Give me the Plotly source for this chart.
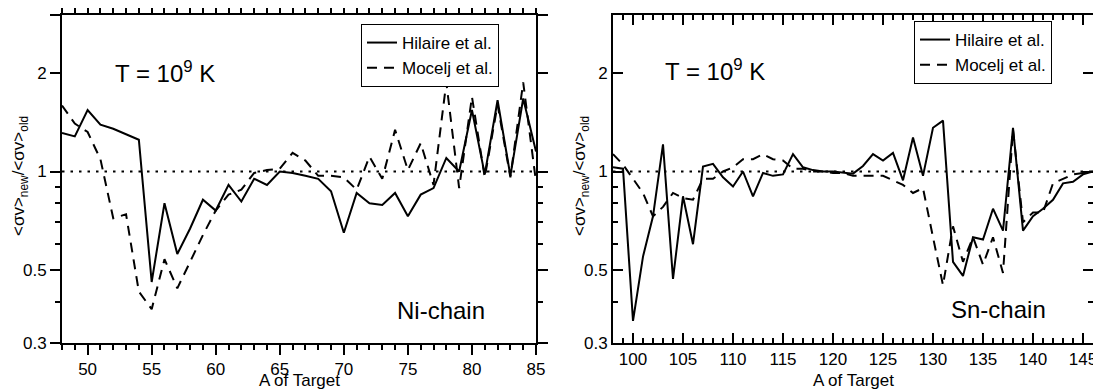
import math
import plotly.graph_objects as go

# ---- data ----
A_ni = list(range(48, 86))
hilaire_ni = [1.31, 1.28, 1.54, 1.39, 1.35, 1.30, 1.25, 0.46, 0.80, 0.56,
              0.67, 0.82, 0.76, 0.91, 0.81, 0.95, 0.91, 1.00, 0.99, 0.97,
              0.95, 0.87, 0.65, 0.86, 0.80, 0.79, 0.86, 0.73, 0.85, 0.89,
              1.10, 1.00, 1.54, 0.98, 1.65, 0.97, 1.67, 1.15]
mocelj_ni = [1.59, 1.40, 1.32, 1.09, 0.72, 0.74, 0.43, 0.38, 0.54, 0.44,
             0.53, 0.64, 0.76, 0.85, 0.88, 0.99, 1.01, 1.02, 1.14, 1.08,
             0.97, 0.97, 0.96, 0.88, 1.11, 0.95, 1.34, 1.01, 1.22, 0.91,
             1.87, 0.89, 1.69, 0.96, 1.60, 0.96, 1.87, 0.93]

A_sn = list(range(98, 147))
hilaire_sn = [1.03, 1.02, 0.35, 0.55, 0.73, 1.21, 0.47, 0.84, 0.60, 1.035,
              1.055, 0.96, 0.90, 1.00, 0.84, 0.99, 0.97, 0.98, 1.13, 1.03,
              1.01, 1.00, 1.00, 0.99, 0.985, 1.04, 1.13, 1.08, 1.14, 0.94,
              1.27, 0.97, 1.36, 1.43, 0.53, 0.48, 0.63, 0.62, 0.77, 0.66,
              1.36, 0.66, 0.73, 0.77, 0.82, 0.92, 0.93, 0.98, 1.00]
mocelj_sn = [1.13, 1.05, 0.95, 0.86, 0.73, 0.78, 0.86, 0.83, 0.82, 0.95,
             0.95, 1.00, 1.03, 1.09, 1.09, 1.13, 1.09, 1.08, 1.02, 1.02,
             1.00, 1.00, 0.99, 0.99, 0.97, 0.97, 0.97, 0.97, 0.94, 0.91,
             0.86, 0.89, 0.63, 0.45, 0.68, 0.53, 0.63, 0.52, 0.63, 0.49,
             1.34, 0.70, 0.75, 0.75, 0.92, 0.95, 0.98, 0.99, 1.00]

y_ticks = [0.3, 0.5, 1, 2, 3]
y_minor = [0.4, 0.6, 0.7, 0.8, 0.9]
y_lim = [0.3, 3]
ref_level = [1, 1]

FONT = "Arial, Liberation Sans, Helvetica, sans-serif"
DASH = "10px,7px"
DOT = "2.5px,6px"
YRANGE = [math.log10(y_lim[0]) - 0.0005, math.log10(y_lim[1]) + 0.0005]
W, H = 1093, 382   # page body adds an 8px margin

fig = go.Figure()

panels = [
    ("x", "y", A_ni, hilaire_ni, mocelj_ni, "legend"),
    ("x2", "y2", A_sn, hilaire_sn, mocelj_sn, "legend2"),
]
for xa, ya, A, hil, moc, leg in panels:
    fig.add_trace(go.Scatter(x=[A[0], A[-1]], y=ref_level, mode="lines",
                             line=dict(color="black", width=2, dash=DOT),
                             showlegend=False, xaxis=xa, yaxis=ya, hoverinfo="skip"))
    fig.add_trace(go.Scatter(x=A, y=hil, mode="lines", name="Hilaire et al.",
                             line=dict(color="black", width=2), xaxis=xa, yaxis=ya,
                             legend=leg))
    fig.add_trace(go.Scatter(x=A, y=moc, mode="lines", name="Mocelj et al.",
                             line=dict(color="black", width=2, dash=DASH), xaxis=xa,
                             yaxis=ya, legend=leg))


def xaxis(domain, rng, anchor, tdir):
    return dict(domain=domain, range=rng, anchor=anchor, showline=True, linecolor="black",
                linewidth=2, mirror="ticks", ticks=tdir, ticklen=10, tickwidth=2,
                tickcolor="black", showgrid=False, zeroline=False, dtick=5, tick0=0,
                automargin=False,
                minor=dict(ticks=tdir, ticklen=5, tickwidth=1.5, tickcolor="black",
                           dtick=1, tick0=0, showgrid=False))


def yaxis(domain, anchor, tdir):
    return dict(domain=domain, type="log", range=YRANGE, anchor=anchor, showline=True,
                linecolor="black", linewidth=2, mirror="ticks", ticks=tdir, ticklen=10,
                tickwidth=2, tickcolor="black", tickvals=y_ticks, showgrid=False,
                zeroline=False, automargin=False,
                minor=dict(ticks=tdir, ticklen=5, tickwidth=1.5, tickcolor="black",
                           tickvals=y_minor, showgrid=False))


ydom = [1 - 335 / H, 1 - 7 / H]
legend_style = dict(xanchor="left", yanchor="top", bordercolor="black", borderwidth=1,
                    bgcolor="white", font=dict(size=17, family=FONT, color="black"),
                    itemwidth=30, tracegroupgap=0)

fig.update_layout(
    width=W, height=H,
    margin=dict(l=0, r=0, t=0, b=0, autoexpand=False),
    paper_bgcolor="white", plot_bgcolor="white",
    font=dict(family=FONT, color="black", size=17),
    xaxis=xaxis([54 / W, 528 / W], [A_ni[0], A_ni[-1]], "y", "outside"),
    yaxis=yaxis(ydom, "x", "outside"),
    xaxis2=xaxis([605 / W, 1085 / W], [A_sn[0], A_sn[-1]], "y2", "inside"),
    yaxis2=yaxis(ydom, "x2", "inside"),
    legend=dict(x=353 / W, y=1 - 16 / H, **legend_style),
    legend2=dict(x=906 / W, y=1 - 13 / H, **legend_style),
    showlegend=True,
)


def note(text, x, y, size=24, angle=0, xanchor="left"):
    fig.add_annotation(text=text, x=x / W, y=1 - y / H, xref="paper", yref="paper",
                       xanchor=xanchor, yanchor="middle", showarrow=False, textangle=angle,
                       font=dict(size=size, color="black", family=FONT))


note("T = 10<sup>9</sup> K", 105, 64)
note("Ni-chain", 387, 302)
note("T = 10<sup>9</sup> K", 655, 62)
note("Sn-chain", 941, 301)
note("A of Target", 291, 372, size=17, xanchor="center")
note("A of Target", 845, 372, size=17, xanchor="center")
ytitle = "&lt;σv&gt;<sub>new</sub>/&lt;σv&gt;<sub>old</sub>"
note(ytitle, 12, 168, size=17, angle=-90, xanchor="center")
note(ytitle, 573, 168, size=17, angle=-90, xanchor="center")

fig.write_html("out.html")
